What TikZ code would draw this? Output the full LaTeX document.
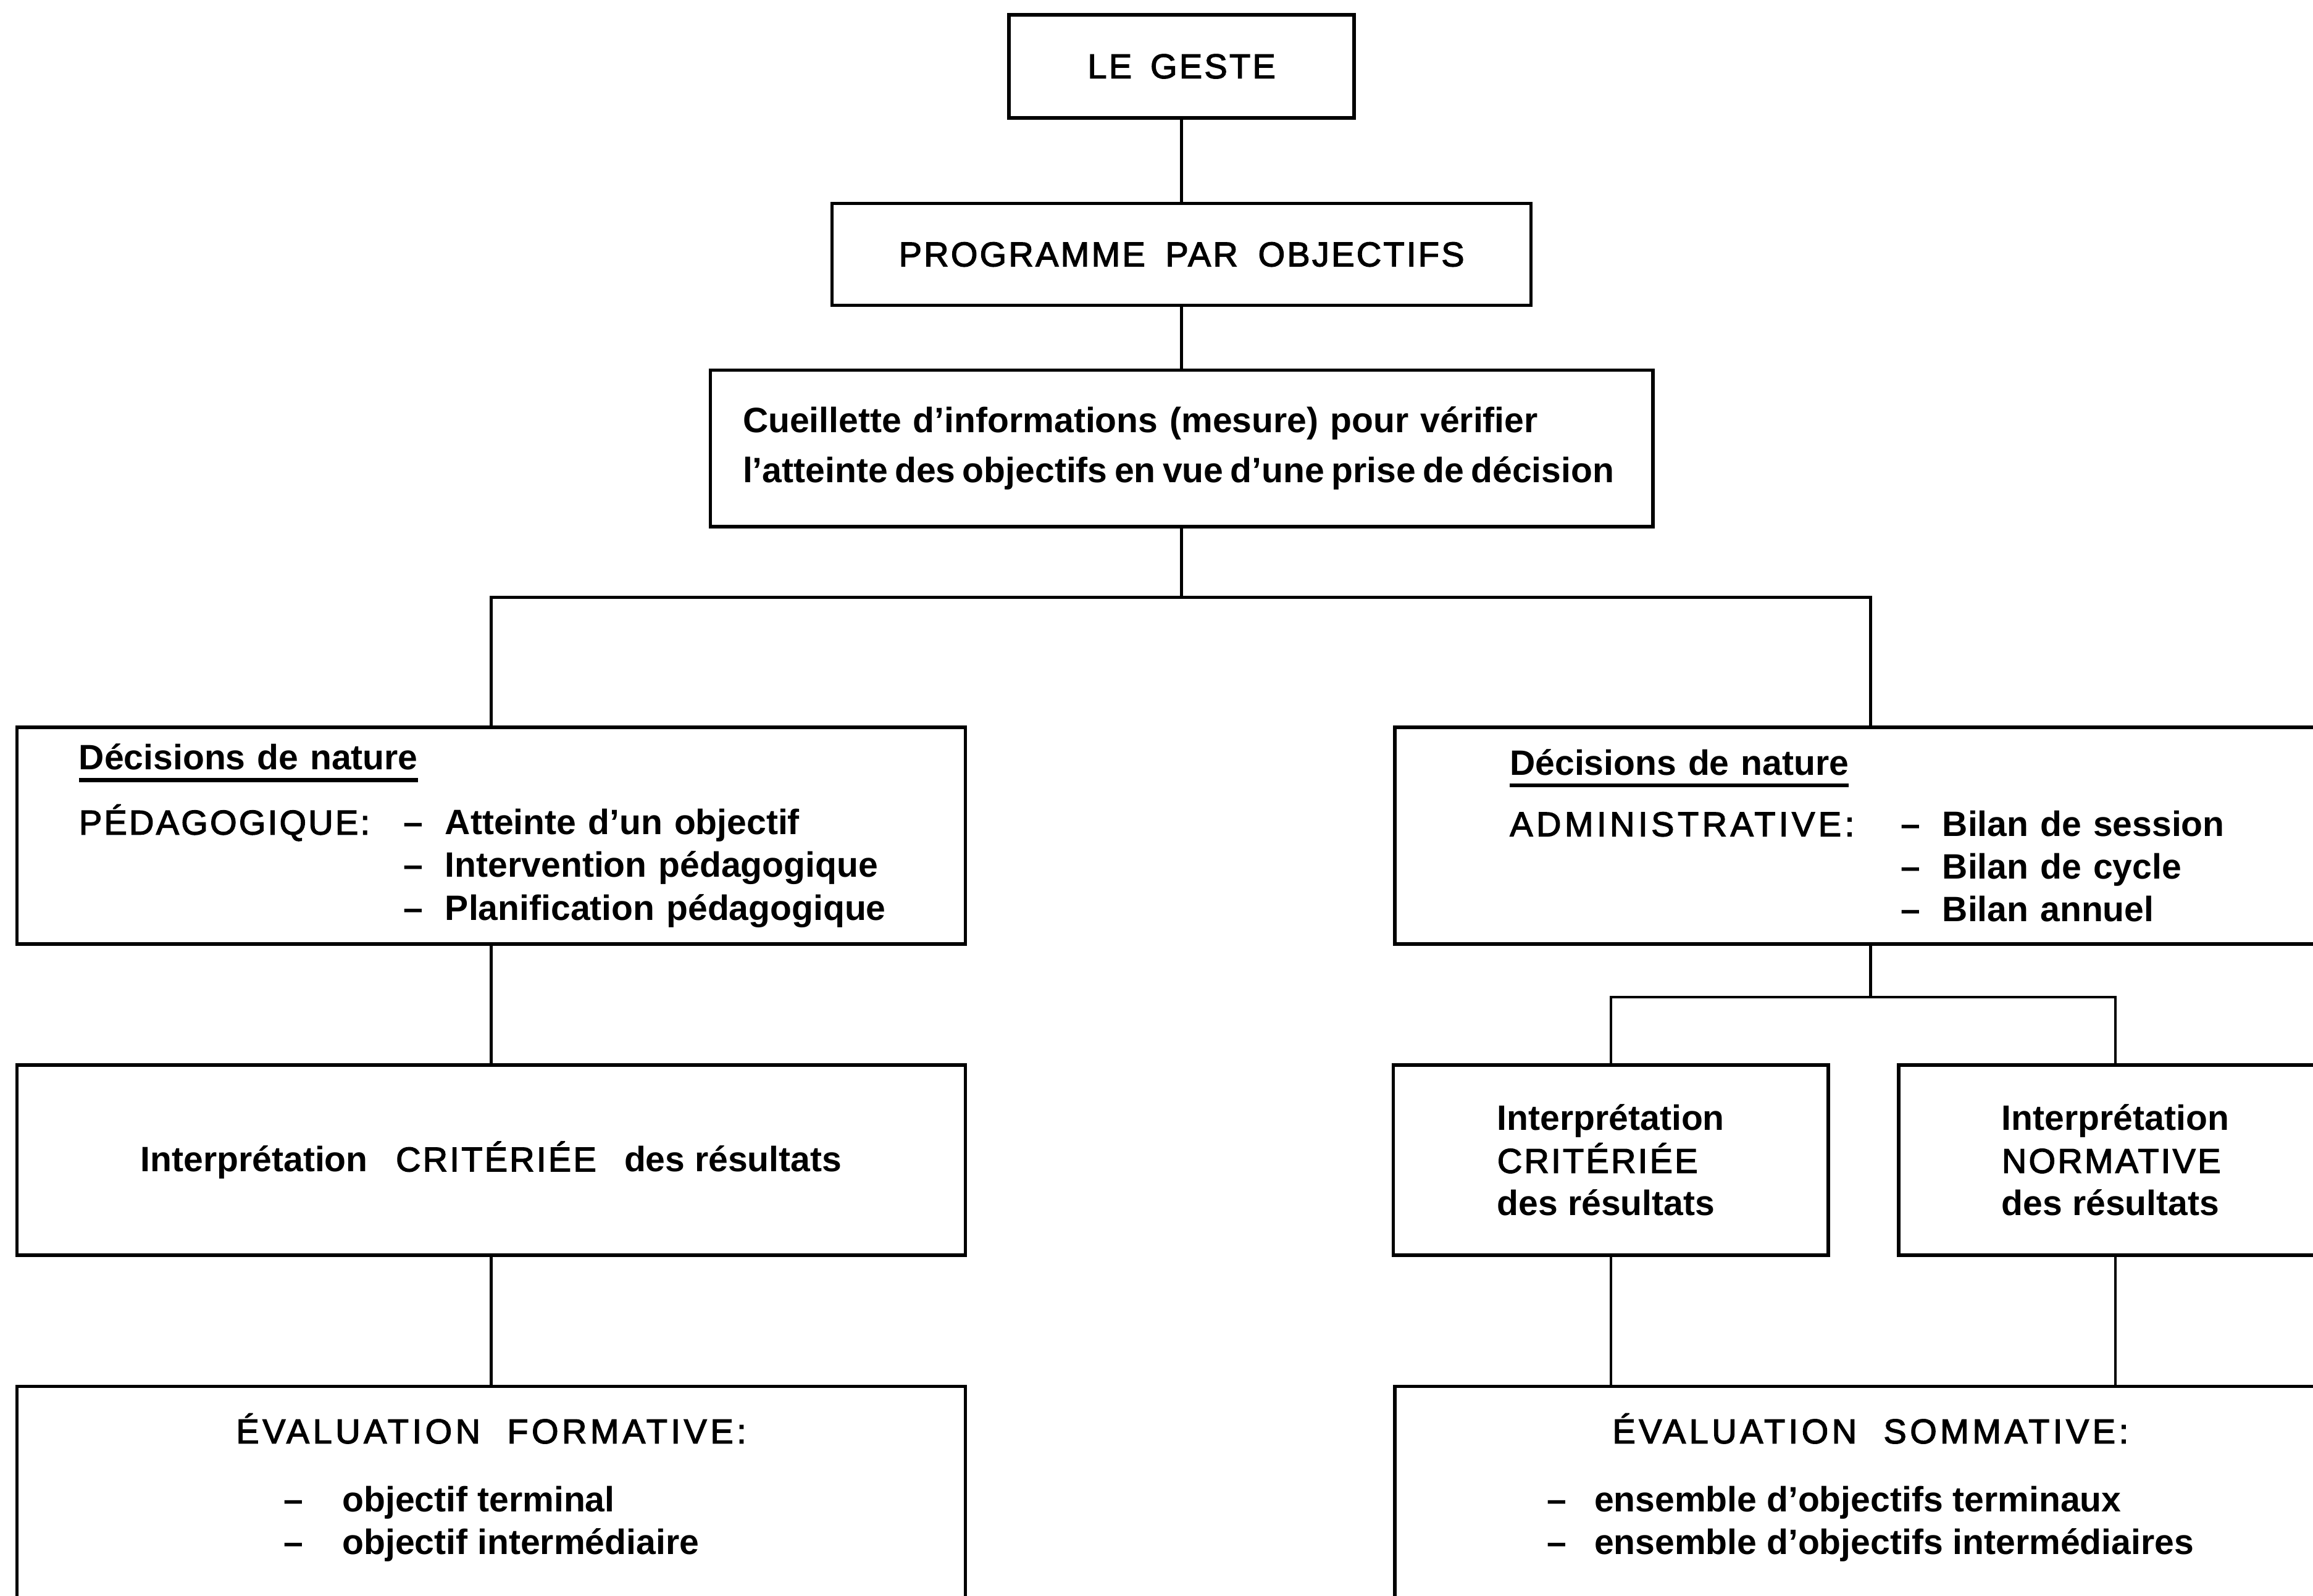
\documentclass[tikz,border=0pt]{standalone}
\usepackage{fontspec}
\setmainfont{Liberation Sans}
\newfontfamily\capsfont{Liberation Sans}[LetterSpace=6,FakeBold=2.5]
\newfontfamily\capswide{Liberation Sans}[LetterSpace=10,FakeBold=2.5]
\usetikzlibrary{positioning}

\newcommand{\majus}[1]{{\capsfont\mdseries\fontsize{13.3}{16.5}\selectfont #1}}
\newcommand{\titre}[1]{{\capswide\mdseries\fontsize{13.3}{16.5}\selectfont #1}}
\newcommand{\tiret}{–\hspace{0.3cm}}
\newcommand{\souligne}[1]{\setbox0\hbox{#1}\leavevmode\rlap{\rule[-4.8pt]{\wd0}{1.5pt}}\box0}

\begin{document}
\begin{tikzpicture}[
    x=0.02cm, y=-0.02cm,
    box/.style={draw, line width=1.3pt, inner sep=0pt, font=\fontsize{13.6}{16.5}\selectfont\bfseries},
    link/.style={draw, line width=1.1pt},
]
\useasboundingbox (0,0) rectangle (1568,1082);
\clip (0,0) rectangle (1568,1082);

% Top of the chain
\node[box, minimum width=4.68cm, minimum height=1.4cm] (geste) at (801,45) {\majus{LE\hspace{0.2em} GESTE}};
\node[box, minimum width=9.48cm, minimum height=1.38cm] (prog) at (801,172.5) {\majus{PROGRAMME\hspace{0.25em} PAR\hspace{0.25em} OBJECTIFS}};
\node[box, minimum width=12.78cm, minimum height=2.12cm, text width=11.9cm, align=left,
      font=\fontsize{13.6}{19.3}\selectfont\bfseries] (cueil) at (801,304)
    {\mbox{Cueillette d’informations (mesure) pour vérifier}\\{\spaceskip=0.2em\mbox{l’atteinte des objectifs en vue d’une prise de décision}}};

% Decisions
\node[box, minimum width=12.86cm, minimum height=2.94cm, text width=11.18cm, align=left] (pedago) at (333,566.5)
    {\souligne{Décisions de nature}\\[0.3cm]
     \mbox{\makebox[4.4cm][l]{\majus{PÉDAGOGIQUE:}}\tiret Atteinte d’un objectif}\\
     \mbox{\hspace*{4.4cm}\tiret Intervention pédagogique}\\
     \mbox{\hspace*{4.4cm}\tiret Planification pédagogique}};
\node[box, minimum width=12.9cm, minimum height=2.94cm, text width=9.78cm, align=left] (admin) at (1268,566.5)
    {\souligne{Décisions de nature}\\[0.25cm]
     \mbox{\makebox[5.3cm][l]{\titre{ADMINISTRATIVE:}}\tiret Bilan de session}\\
     \mbox{\hspace*{5.3cm}\tiret Bilan de cycle}\\
     \mbox{\hspace*{5.3cm}\tiret Bilan annuel}};

% Interpretation
\node[box, minimum width=12.86cm, minimum height=2.58cm] (critL) at (333,786.5)
    {Interprétation\hspace{0.38cm}\majus{CRITÉRIÉE}\hspace{0.38cm}des résultats};
\node[box, minimum width=5.9cm, minimum height=2.58cm, align=left] (critR) at (1092,786.5)
    {Interprétation\\\majus{CRITÉRIÉE}\\des résultats};
\node[box, minimum width=5.88cm, minimum height=2.58cm, align=left] (norm) at (1434,786.5)
    {Interprétation\\\majus{NORMATIVE}\\des résultats};

% Evaluation
\node[box, minimum width=12.86cm, minimum height=3.4cm] (formL) at (333,1025) {};
\node[box, draw=none, align=center] (formLtxt) at ([yshift=-1.43cm]formL.north)
    {\titre{ÉVALUATION\hspace{0.4em} FORMATIVE:}\\[0.48cm]
     \begin{tabular}{@{}l@{}}\makebox[0.8cm][l]{–}objectif terminal\\\makebox[0.8cm][l]{–}objectif intermédiaire\end{tabular}};
\node[box, minimum width=12.9cm, minimum height=3.4cm] (formR) at (1268,1025) {};
\node[box, draw=none, align=center] (formRtxt) at ([yshift=-1.43cm]formR.north)
    {\titre{ÉVALUATION\hspace{0.4em} SOMMATIVE:}\\[0.48cm]
     \begin{tabular}{@{}l@{}}\makebox[0.64cm][l]{–}ensemble d’objectifs terminaux\\\makebox[0.64cm][l]{–}ensemble d’objectifs intermédiaires\end{tabular}};

% Connectors
\coordinate (fork) at (801,405);
\coordinate (forkadm) at (1268,676);
\draw[link] (geste) -- (prog);
\draw[link] (prog) -- (cueil);
\draw[link] (cueil) -- (fork);
\draw[link] (pedago.north) |- (fork) -| (admin.north);
\draw[link] (pedago) -- (critL);
\draw[link] (critL) -- (formL);
\draw[link] (admin) -- (forkadm);
\draw[link] (critR.north) |- (forkadm) -| (norm.north);
\draw[link] (critR) -- (critR |- formR.north);
\draw[link] (norm) -- (norm |- formR.north);

\end{tikzpicture}
\end{document}
